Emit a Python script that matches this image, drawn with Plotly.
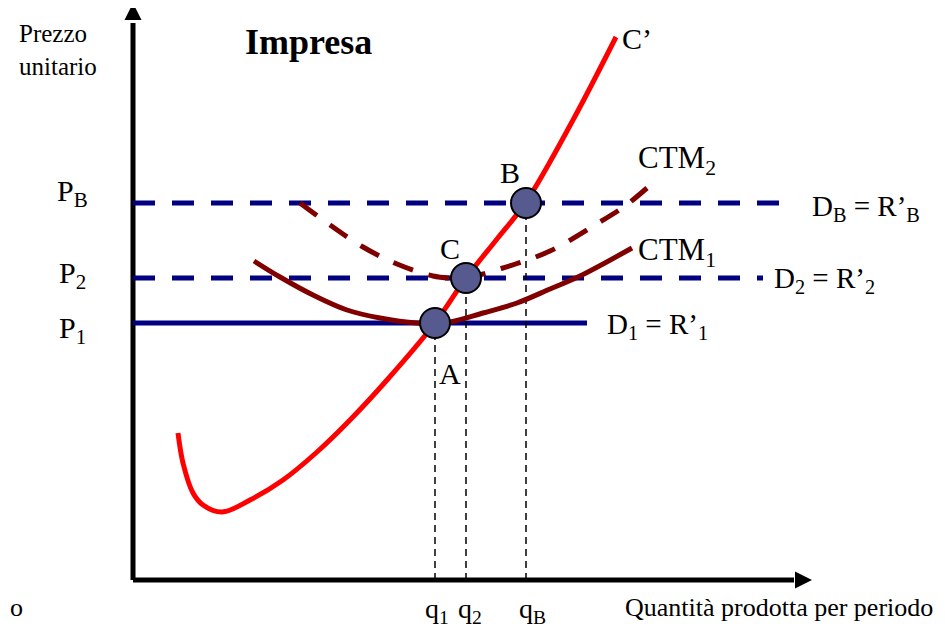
import plotly.graph_objects as go

# ---- data (quantity, price units) ----
P1, P2, PB = 257, 302, 377
q1, q2, qB = 302, 333, 393

cm_q = [45, 50, 60, 70, 89, 117, 150, 184, 217, 254, 302, 333, 364, 393, 440, 483]
cm_p = [147, 117, 87, 75, 68, 80, 100, 128, 160, 200, 257, 302, 341, 378, 460, 543]

ctm1_q = [121, 147, 180, 214, 247, 284, 302, 317, 350, 384, 417, 447, 499]
ctm1_p = [319, 303, 285, 270, 262, 257, 257, 258, 267, 277, 291, 304, 332]

ctm2_q = [167, 197, 230, 264, 300, 317, 333, 370, 417, 467, 492, 514]
ctm2_p = [377, 355, 333, 316, 304, 302, 302, 312, 329, 358, 374, 392]

d1_end, d2_end, dB_end = 454, 630, 649
x_axis_end, y_axis_end = 679, 577

eq_labels = ["A", "C", "B"]
eq_q = [q1, q2, qB]
eq_p = [P1, P2, PB]

FONT = "Liberation Serif"
NAVY = "#000080"
MAROON = "#800000"

fig = go.Figure()

def line(xs, ys, color, width, dash="solid", shape="linear"):
    fig.add_trace(go.Scatter(x=xs, y=ys, mode="lines",
                             line=dict(color=color, width=width, dash=dash, shape=shape,
                                       smoothing=1.0 if shape == "spline" else None),
                             hoverinfo="skip", showlegend=False))

# axes
line([0, 0], [0, y_axis_end - 20], "black", 5)
line([0, x_axis_end - 18], [0, 0], "black", 5)
fig.add_trace(go.Scatter(x=[0], y=[y_axis_end], mode="markers",
                         marker=dict(symbol="arrow-up", size=17, color="black", line=dict(width=0)),
                         hoverinfo="skip", showlegend=False))
fig.add_trace(go.Scatter(x=[x_axis_end], y=[0], mode="markers",
                         marker=dict(symbol="arrow-right", size=17, color="black", line=dict(width=0)),
                         hoverinfo="skip", showlegend=False))

# demand / revenue lines
line([0, dB_end], [PB, PB], NAVY, 5, dash="22px,17px")
line([0, d2_end], [P2, P2], NAVY, 5, dash="22px,17px")
line([0, d1_end], [P1, P1], NAVY, 5)

# vertical guides
for q, p in zip(eq_q, eq_p):
    line([q, q], [0, p], "black", 1.5, dash="7px,5px")

# cost curves
line(ctm2_q, ctm2_p, MAROON, 5, dash="21px,16px", shape="spline")
line(ctm1_q, ctm1_p, MAROON, 5, shape="spline")
line(cm_q, cm_p, "#FF0000", 5, shape="spline")

# equilibrium points
fig.add_trace(go.Scatter(x=eq_q, y=eq_p, mode="markers",
                         marker=dict(size=30, color="#575A8E", line=dict(color="black", width=2)),
                         hoverinfo="skip", showlegend=False))

ann = []
def text(x, y, s, size, xanchor="center", bold=False, align="center", xref="x"):
    ann.append(dict(x=x, y=y, xref=xref, yref="y", text=f"<b>{s}</b>" if bold else s,
                    showarrow=False, xanchor=xanchor, yanchor="middle", align=align,
                    font=dict(family=FONT, size=size, color="black")))

text(-116, 530, "Prezzo<br>unitario", 25, xanchor="left", align="left")
text(175, 538, "Impresa", 36, bold=True)
text(-61, 387, "P<sub>B</sub>", 30)
text(-61, 305, "P<sub>2</sub>", 30)
text(-61, 250, "P<sub>1</sub>", 30)
text(377, 408, "B", 30)
text(317, 332, "C", 30)
text(317, 207, "A", 30)
text(487, 542, "C’", 30, xanchor="left")
text(503, 420, "CTM<sub>2</sub>", 31, xanchor="left")
text(503, 328, "CTM<sub>1</sub>", 31, xanchor="left")
text(677, 372, "D<sub>B</sub> = R’<sub>B</sub>", 29, xanchor="left")
text(639, 300, "D<sub>2</sub> = R’<sub>2</sub>", 29, xanchor="left")
text(472, 254, "D<sub>1</sub> = R’<sub>1</sub>", 29, xanchor="left")
text(304, -30, "q<sub>1</sub>", 28)
text(337, -30, "q<sub>2</sub>", 28)
text(399, -30, "q<sub>B</sub>", 28)
text(646, -27, "Quantità prodotta per periodo", 26)
text(0, -27, "o", 26, xanchor="left", xref="paper")

# page body has an 8px margin: size the figure to the visible area
fig.update_layout(
    width=937, height=625,
    margin=dict(l=0, r=0, t=0, b=0),
    paper_bgcolor="white", plot_bgcolor="white",
    xaxis=dict(range=[-125, 812], visible=False, fixedrange=True),
    yaxis=dict(range=[-53, 572], visible=False, fixedrange=True),
    annotations=ann,
    showlegend=False,
)

fig.write_html("out.html")
